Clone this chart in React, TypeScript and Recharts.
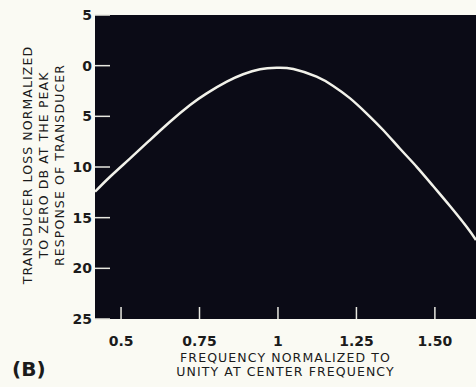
import React from "react";
import { LineChart, Line, XAxis, YAxis, CartesianGrid } from "recharts";

const freq = [0.417, 0.465, 0.529, 0.592, 0.656, 0.72, 0.773, 0.837, 0.889, 0.943, 0.996, 1.049, 1.123, 1.176, 1.229, 1.282, 1.335, 1.389, 1.442, 1.495, 1.548, 1.601, 1.631];
const loss = [12.44, 10.96, 9.15, 7.34, 5.53, 3.88, 2.73, 1.58, 0.85, 0.36, 0.2, 0.33, 1.09, 2.0, 3.2, 4.7, 6.35, 8.2, 9.98, 11.9, 13.85, 15.9, 17.2];

const xTicks = [0.5, 0.75, 1, 1.25, 1.5];
const xTickLabels = ["0.5", "0.75", "1", "1.25", "1.50"];
const yTicks = [-5, 0, 5, 10, 15, 20, 25];
const yTickLabels = ["5", "0", "5", "10", "15", "20", "25"];

const xTitle = ["FREQUENCY NORMALIZED TO", "UNITY AT CENTER FREQUENCY"];
const yTitle = ["TRANSDUCER LOSS NORMALIZED", "TO ZERO DB AT THE PEAK", "RESPONSE OF TRANSDUCER"];
const panelLabel = "(B)";

const data = freq.map((f, i) => ({ f, loss: loss[i] }));

const INK = "#1b1b1b";
const BG = "#fafaf3";
const PLOT = "#0b0b16";
const CURVE = "#f2f2ea";

const XTitle = (props: any) => {
  const vb = props.viewBox || {};
  const cx = vb.x + vb.width / 2;
  return (
    <g>
      <text x={cx} y={vb.y + 43} textAnchor="middle" fontFamily="DejaVu Sans" fontSize={12.5} letterSpacing={1.1} fill={INK}>
        {xTitle[0]}
      </text>
      <text x={cx} y={vb.y + 57} textAnchor="middle" fontFamily="DejaVu Sans" fontSize={12.5} letterSpacing={1.1} fill={INK}>
        {xTitle[1]}
      </text>
      <text x={12} y={vb.y + 57} fontFamily="DejaVu Sans" fontWeight="bold" fontSize={20} fill={INK}>
        {panelLabel}
      </text>
    </g>
  );
};

const YTitle = (props: any) => {
  const vb = props.viewBox || {};
  const cy = vb.y + vb.height / 2 - 2;
  return (
    <g transform={`translate(32,${cy}) rotate(-90)`}>
      {yTitle.map((t, i) => (
        <text key={i} x={0} y={i * 16} textAnchor="middle" fontFamily="DejaVu Sans" fontSize={12.5} letterSpacing={1.1} fill={INK}>
          {t}
        </text>
      ))}
    </g>
  );
};

export default function App() {
  return (
    <div style={{ position: "absolute", left: 0, top: 0, width: 476, height: 387, background: BG, overflow: "hidden" }}>
      <LineChart width={476} height={387} data={data} margin={{ top: 15, right: 0, bottom: 38, left: 0 }}>
        <CartesianGrid horizontal={false} vertical={false} fill={PLOT} stroke="none" />
        <XAxis
          dataKey="f"
          type="number"
          domain={[0.417, 1.631]}
          ticks={xTicks}
          allowDataOverflow
          height={30}
          axisLine={false}
          tickSize={-12}
          tickMargin={29}
          tickLine={{ stroke: "#e8e8e0", strokeWidth: 1.5 }}
          tick={{ fill: INK, fontFamily: "DejaVu Sans", fontWeight: "bold", fontSize: 14 }}
          tickFormatter={(v: number) => xTickLabels[xTicks.indexOf(v)] ?? String(v)}
          label={<XTitle />}
        />
        <YAxis
          type="number"
          domain={[-5, 25]}
          ticks={yTicks}
          reversed
          allowDataOverflow
          width={95}
          axisLine={false}
          tickSize={-15}
          tickMargin={18}
          tickLine={{ stroke: "#e8e8e0", strokeWidth: 1.5 }}
          tick={{ fill: INK, fontFamily: "DejaVu Sans", fontWeight: "bold", fontSize: 14 }}
          tickFormatter={(v: number) => yTickLabels[yTicks.indexOf(v)] ?? String(v)}
          label={<YTitle />}
        />
        <Line
          type="natural"
          dataKey="loss"
          stroke={CURVE}
          strokeWidth={2.5}
          dot={false}
          isAnimationActive={false}
        />
      </LineChart>
    </div>
  );
}
